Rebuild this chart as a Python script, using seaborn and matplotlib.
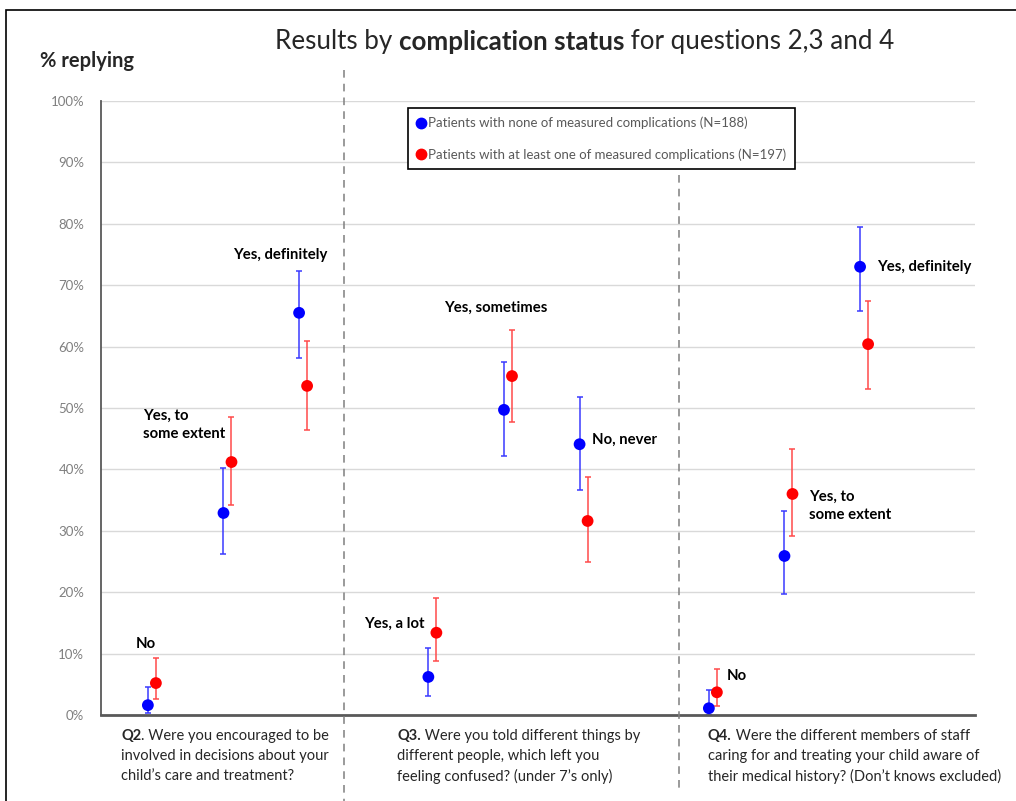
import numpy as np
import pandas as pd
import matplotlib
matplotlib.use("Agg")
import matplotlib.pyplot as plt
from matplotlib.lines import Line2D
import seaborn as sns

# datos (% replying)
categorias = ["Q2 No", "Q2 Yes, to some extent", "Q2 Yes, definitely",
              "Q3 Yes, a lot", "Q3 Yes, sometimes", "Q3 No, never",
              "Q4 No", "Q4 Yes, to some extent", "Q4 Yes, definitely"]
etiquetas = ["No", "Yes, to\nsome extent", "Yes, definitely",
             "Yes, a lot", "Yes, sometimes", "No, never",
             "No", "Yes, to\nsome extent", "Yes, definitely"]

sin_comp = [1.6, 32.9, 65.5, 6.2, 49.7, 44.1, 1.1, 25.9, 73.0]
sin_comp_alto = [4.6, 40.2, 72.3, 10.9, 57.5, 51.8, 4.1, 33.2, 79.5]
sin_comp_bajo = [0.3, 26.2, 58.1, 3.1, 42.2, 36.6, 0.0, 19.7, 65.8]

con_comp = [5.2, 41.2, 53.6, 13.4, 55.2, 31.6, 3.7, 36.0, 60.4]
con_comp_alto = [9.3, 48.5, 60.9, 19.1, 62.7, 38.8, 7.5, 43.3, 67.4]
con_comp_bajo = [2.6, 34.2, 46.4, 8.8, 47.7, 24.9, 1.5, 29.2, 53.1]

serie_azul = "Patients with none of measured complications (N=188)"
serie_roja = "Patients with at least one of measured complications (N=197)"

preguntas = [
    ("Q2", ". Were you encouraged to be", ["involved in decisions about your", "child\u2019s care and treatment?"]),
    ("Q3.", " Were you told different things by", ["different people, which left you", "feeling confused? (under 7\u2019s only)"]),
    ("Q4.", " Were the different members of staff", ["caring for and treating your child aware of", "their medical history? (Don\u2019t knows excluded)"]),
]

## ---------------------------
## estilo
## ---------------------------
sns.set_style("white")
plt.rcParams["font.family"] = ["Lato", "DejaVu Sans"]

fig = plt.figure(figsize=(10.16, 8.01), dpi=100)
ax = fig.add_axes([101 / 1016, 1 - 715 / 801, 874 / 1016, 614 / 801])

# posiciones en x: 3 grupos de 3 respuestas
paso_grupo = 3.71
desplaz = 0.106
x_base = np.array([g * paso_grupo + i for g in range(3) for i in range(3)])

df = pd.DataFrame({
    "x": np.concatenate([x_base, x_base + desplaz]),
    "valor": sin_comp + con_comp,
    "alto": sin_comp_alto + con_comp_alto,
    "bajo": sin_comp_bajo + con_comp_bajo,
    "grupo": [serie_azul] * 9 + [serie_roja] * 9,
})

colores = {serie_azul: "#0000ff", serie_roja: "#ff0000"}
colores_err = {serie_azul: "#3a3aff", serie_roja: "#ff4a4a"}

for nombre, sub in df.groupby("grupo", sort=False):
    ax.errorbar(sub["x"], sub["valor"],
                yerr=[sub["valor"] - sub["bajo"], sub["alto"] - sub["valor"]],
                fmt="none", ecolor=colores_err[nombre], elinewidth=1.1,
                capsize=2.5, capthick=1.1, zorder=2)

sns.scatterplot(data=df, x="x", y="valor", hue="grupo", palette=colores,
                s=72, edgecolor="none", ax=ax, zorder=3, legend=False)

ax.set_xlim(-0.62, 10.94)
ax.set_ylim(0, 100)
ax.set_yticks(np.arange(0, 101, 10))
ax.set_yticklabels([f"{v}%" for v in range(0, 101, 10)], color="#7f7f7f", fontsize=9.5)
ax.set_xticks([])
ax.set_xlabel("")
ax.set_ylabel("")
ax.tick_params(axis="y", length=0, pad=12)
ax.grid(axis="y", color="#d9d9d9", lw=1)
ax.set_axisbelow(True)
for lado in ["top", "right"]:
    ax.spines[lado].set_visible(False)
ax.spines["left"].set_color("#595959")
ax.spines["left"].set_linewidth(1.3)
ax.spines["bottom"].set_color("#595959")
ax.spines["bottom"].set_linewidth(2)

## ---------------------------
## etiquetas de cada punto
## ---------------------------
posiciones_etq = [  # (offset x, offset y en pixeles, ha)
    (-2, 61, "center"), (-80, 88, "left"), (-66, 58, "left"),
    (-64, 53, "left"), (-60, 102, "left"), (12, 4, "left"),
    (18, 16, "left"), (25, -12, "left"), (17, 0, "left"),
]
refs = [sin_comp, sin_comp, sin_comp, sin_comp, sin_comp, sin_comp, con_comp, con_comp, sin_comp]
for i, (texto, (dx, dy, ha)) in enumerate(zip(etiquetas, posiciones_etq)):
    ax.annotate(texto, xy=(x_base[i], refs[i][i]), xytext=(dx, dy),
                textcoords="offset pixels", ha=ha, va="center",
                fontsize=10.7, fontweight="bold", linespacing=1.4, color="#000000")

## ---------------------------
## leyenda
## ---------------------------
manejadores = [Line2D([], [], marker="o", ls="none", color=colores[n], markersize=7.5, label=n)
               for n in [serie_azul, serie_roja]]
leg = ax.legend(handles=manejadores, loc="upper left", bbox_to_anchor=((408 - 101) / 874, (715 - 108) / 614),
                borderaxespad=0, frameon=True, fancybox=False, edgecolor="#000000", fontsize=9.5,
                labelspacing=1.45, handlelength=0.6, handletextpad=0.3, borderpad=0.65,
                labelcolor="#595959", framealpha=1)
leg.get_frame().set_linewidth(1.2)

## ---------------------------
## titulos y textos
## ---------------------------
t1 = fig.text(275 / 1016, 1 - 42 / 801, "Results by ", fontsize=18.7, va="center", ha="left")
t2 = ax.annotate("complication status", xy=(1, 0), xycoords=t1, va="bottom", ha="left",
                 fontsize=18.7, fontweight="bold", annotation_clip=False)
ax.annotate(" for questions 2,3 and 4", xy=(1, 0), xycoords=t2, va="bottom", ha="left",
            fontsize=18.7, annotation_clip=False)

fig.text(40 / 1016, 1 - 61 / 801, "% replying", fontsize=14.5, fontweight="bold", va="center")

x_preg = [121, 397, 708]
fuente_preg = ["Liberation Sans Narrow", "Lato", "DejaVu Sans"]
for (negrita, resto, lineas), xp in zip(preguntas, x_preg):
    a = fig.text(xp / 1016, 1 - 736 / 801, negrita, fontsize=10.5, fontweight="bold",
                 va="center", ha="left", family=fuente_preg)
    ax.annotate(resto, xy=(1, 0), xycoords=a, va="bottom", ha="left", fontsize=10.5,
                family=fuente_preg, annotation_clip=False)
    for k, linea in enumerate(lineas):
        fig.text(xp / 1016, 1 - (756 + 20 * k) / 801, linea, fontsize=10.5,
                 va="center", ha="left", family=fuente_preg)

# separadores discontinuos y marco
fig.add_artist(Line2D([344 / 1016, 344 / 1016], [1 - 70 / 801, 0], transform=fig.transFigure,
                      color="#7f7f7f", lw=1.1, ls=(0, (5, 4))))
fig.add_artist(Line2D([679 / 1016, 679 / 1016], [1 - 175 / 801, 1 - 790 / 801], transform=fig.transFigure,
                      color="#7f7f7f", lw=1.1, ls=(0, (5, 4))))
fig.add_artist(plt.Rectangle((6 / 1016, -0.01), 1.01, 1 - 10 / 801 + 0.01, transform=fig.transFigure,
                             fill=False, edgecolor="#000000", lw=1.2))

fig.savefig("out.png", dpi=100)
